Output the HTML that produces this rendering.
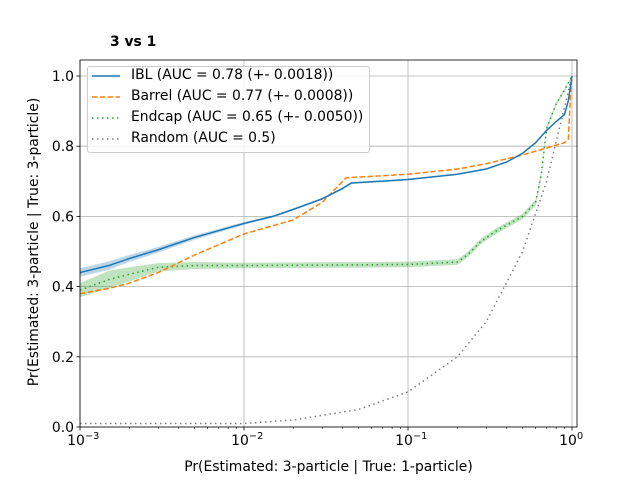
<!DOCTYPE html>
<html><head><meta charset="utf-8"><style>
body{margin:0;background:#fff;font-family:"Liberation Sans","DejaVu Sans",sans-serif}
svg text{font-family:"DejaVu Sans","Liberation Sans",sans-serif}
</style></head><body>
<svg id="c" width="640" height="480" xmlns="http://www.w3.org/2000/svg"></svg>
<script>
const iblX=[0.001,0.0015,0.002,0.003,0.005,0.01,0.015,0.02,0.03,0.04,0.045,0.1,0.2,0.3,0.4,0.5,0.6,0.7,0.8,0.9,0.95,1];
const iblY=[0.44,0.46,0.48,0.505,0.54,0.58,0.6,0.62,0.65,0.68,0.695,0.705,0.72,0.735,0.755,0.78,0.81,0.845,0.87,0.89,0.93,1];
const iblErr=[0.012,0.012,0.01,0.008,0.006,0.004,0.003,0.003,0.003,0.003,0.003,0.002,0.002,0.002,0.002,0.002,0.002,0.002,0.002,0.002,0.002,0];
const barX=[0.001,0.0015,0.002,0.003,0.005,0.01,0.02,0.03,0.04,0.042,0.1,0.2,0.3,0.5,0.7,0.9,0.95,0.98,1];
const barY=[0.38,0.395,0.41,0.44,0.49,0.55,0.59,0.64,0.7,0.71,0.72,0.735,0.75,0.775,0.795,0.81,0.82,0.95,1];
const endX=[0.001,0.0015,0.002,0.003,0.005,0.01,0.05,0.1,0.2,0.23,0.28,0.35,0.5,0.6,0.65,0.7,0.8,0.9,1];
const endY=[0.39,0.42,0.435,0.455,0.46,0.46,0.462,0.463,0.47,0.49,0.53,0.56,0.6,0.64,0.72,0.85,0.92,0.96,1];
const endErr=[0.02,0.025,0.02,0.012,0.01,0.008,0.008,0.008,0.008,0.008,0.008,0.008,0.008,0.008,0.008,0.006,0.005,0.004,0];
const rndX=[0.001,0.01,0.02,0.05,0.1,0.2,0.3,0.5,0.7,1];
const rndY=[0.01,0.01,0.02,0.05,0.1,0.2,0.3,0.5,0.7,1];
const xTicks=[0.001,0.01,0.1,1];
const xTickLabels=["10","10","10","10"];
const xTickExp=["−3","−2","−1","0"];
const yTicks=[0,0.2,0.4,0.6,0.8,1.0];
const yTickLabels=["0.0","0.2","0.4","0.6","0.8","1.0"];

const L=80,R=577,T=60,B=427;
const X=v=>80+164*Math.log10(v/0.001);
const Y=v=>427-351*v;
const svg=document.getElementById('c');
const NS='http://www.w3.org/2000/svg';
function mk(t,a,p){const e=document.createElementNS(NS,t);for(const k in a)e.setAttribute(k,a[k]);(p||svg).appendChild(e);return e;}
xTicks.forEach((t,i)=>{const g=mk('line',{x1:X(t),x2:X(t),y1:T,y2:B,stroke:'#b0b0b0','stroke-width':0.8});
});
yTicks.forEach((t,i)=>{const g=mk('line',{x1:L,x2:R,y1:Y(t),y2:Y(t),stroke:'#b0b0b0','stroke-width':0.8});
});
function band(xs,ys,es,col,name){let d='';xs.forEach((x,i)=>d+=(i?'L':'M')+X(x)+','+Y(ys[i]+es[i]));
for(let i=xs.length-1;i>=0;i--)d+='L'+X(xs[i])+','+Y(ys[i]-es[i]);
const p=mk('path',{d:d+'Z',fill:col,opacity:0.3});}
function line(xs,ys,col,dash,name){const pts=xs.map((x,i)=>X(x)+','+Y(ys[i])).join(' ');
const p=mk('polyline',{points:pts,fill:'none',stroke:col,'stroke-width':1.5,'stroke-dasharray':dash});
}
band(iblX,iblY,iblErr,'#1f77b4','ibl-error-band');
band(endX,endY,endErr,'#2ca02c','endcap-error-band');
line(rndX,rndY,'#7f7f7f','1.5,3.5','random-line');
line(endX,endY,'#2ca02c','1.5,3.5','endcap-line');
line(barX,barY,'#ff7f0e','5.5,2.4','barrel-line');
line(iblX,iblY,'#1f77b4','','ibl-line');
const fr=mk('rect',{x:L,y:T,width:R-L,height:B-T,fill:'none',stroke:'#000','stroke-width':0.8});

xTicks.forEach((t,i)=>{mk('line',{x1:X(t),x2:X(t),y1:B,y2:B+3.5,stroke:'#000','stroke-width':0.8});
const tx=mk('text',{x:X(t)-4,y:B+18,'font-size':13.9,'text-anchor':'middle'});tx.textContent=xTickLabels[i];

const ex=mk('text',{x:X(t)+5,y:B+12,'font-size':9.7,'text-anchor':'start'});ex.textContent=xTickExp[i];

for(let k=2;k<10&&t<1;k++){const v=t*k;mk('line',{x1:X(v),x2:X(v),y1:B,y2:B+2,stroke:'#000','stroke-width':0.6});}});
yTicks.forEach((t,i)=>{mk('line',{x1:L-3.5,x2:L,y1:Y(t),y2:Y(t),stroke:'#000','stroke-width':0.8});
const tx=mk('text',{x:L-6,y:Y(t)+5,'font-size':13.9,'text-anchor':'end'});tx.textContent=yTickLabels[i];
});
</script>
<div style="position:absolute;left:110px;top:34px;font:bold 13.9px 'DejaVu Sans','Liberation Sans',sans-serif">3 vs 1</div>
<div style="position:absolute;left:80px;width:497px;top:459px;text-align:center;font:13.9px 'DejaVu Sans','Liberation Sans',sans-serif">Pr(Estimated: 3-particle | True: 1-particle)</div>
<div style="position:absolute;left:-116px;top:234px;width:300px;text-align:center;transform:rotate(-90deg);font:13.9px 'DejaVu Sans','Liberation Sans',sans-serif">Pr(Estimated: 3-particle | True: 3-particle)</div>
<div style="position:absolute;left:87px;top:66px;width:281px;height:85px;border:1px solid #ccc;border-radius:3px;background:rgba(255,255,255,0.8);font:13.9px 'DejaVu Sans','Liberation Sans',sans-serif">
<svg width="44" height="85" style="position:absolute;left:0;top:0">
<line x1="4" x2="32" y1="9" y2="9" stroke="#1f77b4" stroke-width="1.5"/>
<line x1="4" x2="32" y1="30" y2="30" stroke="#ff7f0e" stroke-width="1.5" stroke-dasharray="5.5,2.4"/>
<line x1="4" x2="32" y1="51" y2="51" stroke="#2ca02c" stroke-width="1.5" stroke-dasharray="1.5,3.5"/>
<line x1="4" x2="32" y1="72" y2="72" stroke="#7f7f7f" stroke-width="1.5" stroke-dasharray="1.5,3.5"/>
</svg>
<div style="position:absolute;left:43px;top:0px">IBL (AUC = 0.78 (+- 0.0018))</div>
<div style="position:absolute;left:43px;top:21px">Barrel (AUC = 0.77 (+- 0.0008))</div>
<div style="position:absolute;left:43px;top:42px">Endcap (AUC = 0.65 (+- 0.0050))</div>
<div style="position:absolute;left:43px;top:63px">Random (AUC = 0.5)</div>
</div>
</body></html>
